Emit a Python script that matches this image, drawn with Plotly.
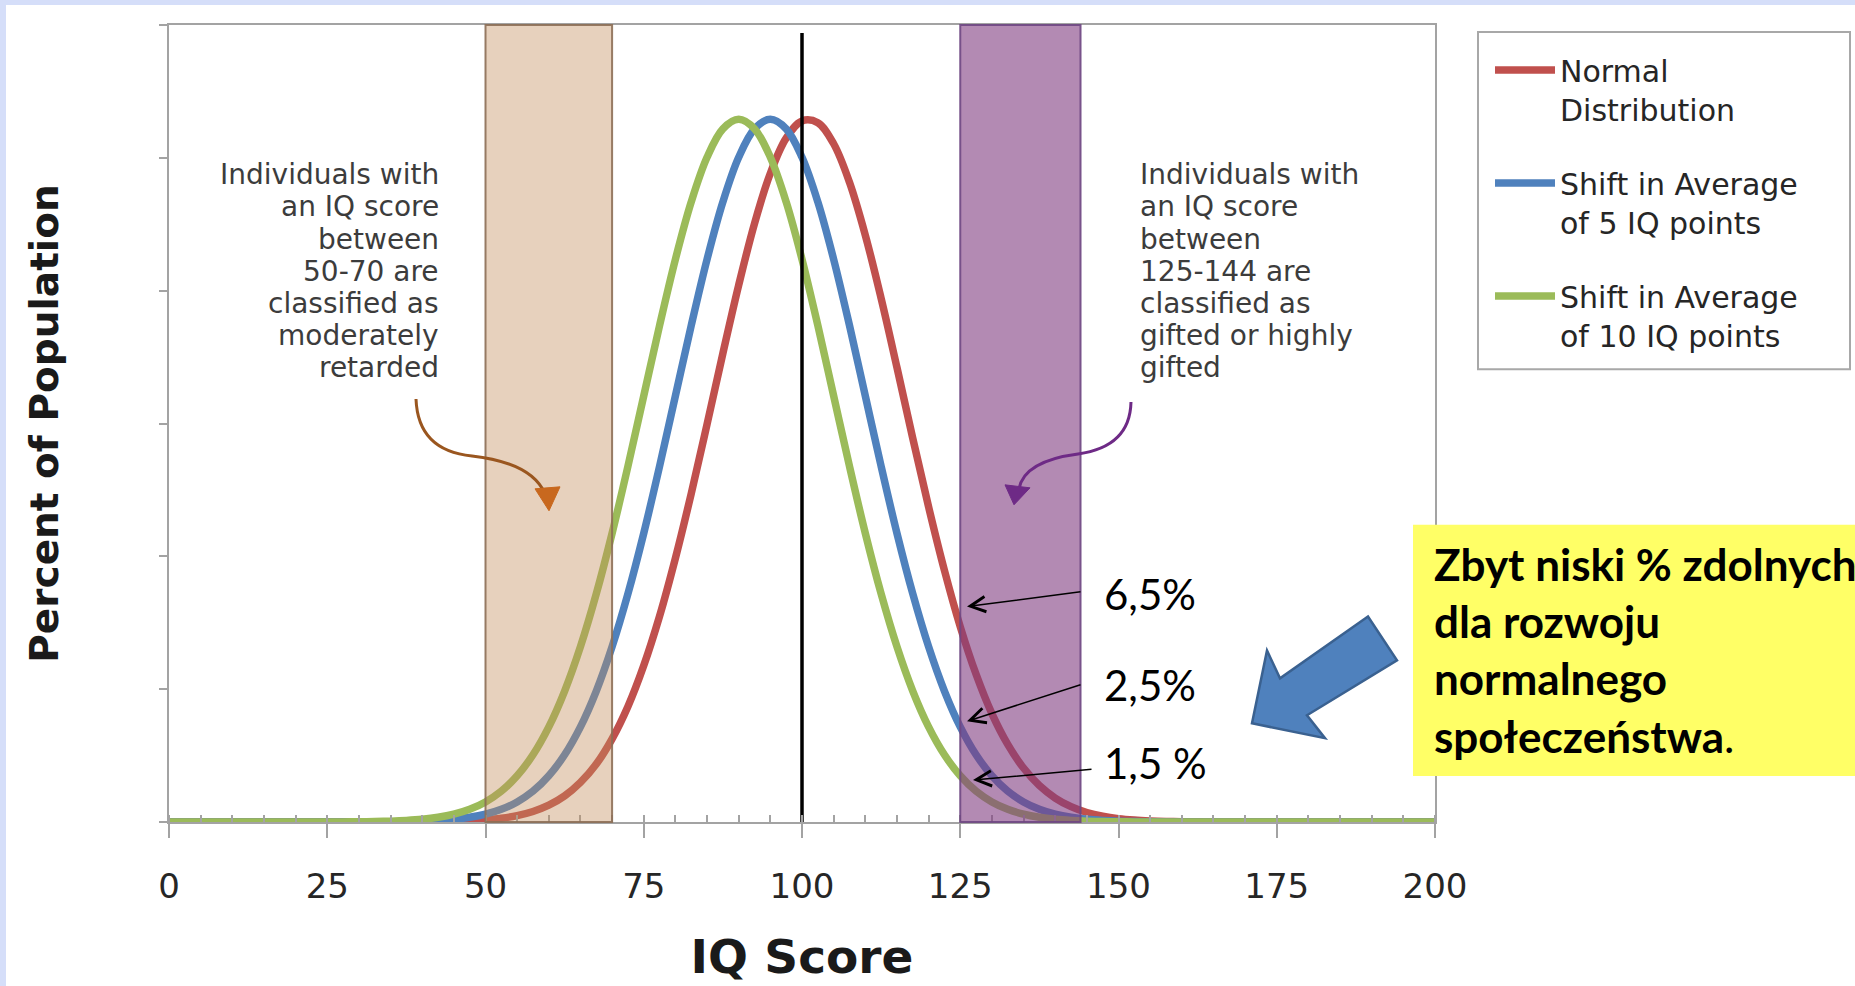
import plotly.graph_objects as go

# ---- data -----------------------------------------------------------------
iq_score = [0,
            25, 27.5, 30, 32.5, 35, 37.5, 40, 42.5, 45, 47.5,
            50, 52.5, 55, 57.5, 60, 62.5, 65, 67.5, 70, 72.5,
            75, 77.5, 80, 82.5, 85, 87.5, 90, 92.5, 95, 97.5,
            100, 102.5, 105, 107.5, 110, 112.5, 115, 117.5, 120, 122.5,
            125, 127.5, 130, 132.5, 135, 137.5, 140, 142.5, 145, 147.5,
            150, 152.5, 155, 157.5, 160, 162.5, 165, 167.5, 170, 172.5,
            175,
            200]

normal_dist = [0,
               0, 0, 0, 0, 0.0001, 0.0003, 0.0007, 0.0013, 0.0025, 0.0046,
               0.0082, 0.0142, 0.024, 0.0395, 0.0631, 0.0982, 0.149, 0.218, 0.313, 0.435,
               0.589, 0.775, 0.993, 1.236, 1.497, 1.764, 2.021, 2.253, 2.442, 2.574,
               2.639, 2.632, 2.553, 2.408, 2.209, 1.971, 1.711, 1.444, 1.186, 0.947,
               0.735, 0.556, 0.408, 0.292, 0.203, 0.137, 0.0901, 0.0576, 0.0358, 0.0217,
               0.0127, 0.0073, 0.0041, 0.0022, 0.0012, 0.0006, 0.0003, 0, 0, 0,
               0,
               0]

shift_5 = [0,
           0, 0, 0.0002, 0.0004, 0.0009, 0.0017, 0.0032, 0.0058, 0.0102, 0.0176,
           0.0294, 0.0478, 0.0756, 0.116, 0.174, 0.253, 0.358, 0.493, 0.660, 0.859,
           1.087, 1.339, 1.604, 1.869, 2.118, 2.334, 2.502, 2.609, 2.645, 2.609,
           2.502, 2.334, 2.118, 1.869, 1.604, 1.339, 1.087, 0.859, 0.660, 0.493,
           0.358, 0.253, 0.174, 0.116, 0.0756, 0.0478, 0.0294, 0.0176, 0.0102, 0.0058,
           0.0032, 0.0017, 0.0009, 0.0004, 0.0002, 0, 0, 0, 0, 0,
           0,
           0]

shift_10 = [0,
            0.0002, 0.0004, 0.0009, 0.0017, 0.0032, 0.0058, 0.0102, 0.0176, 0.0294, 0.0478,
            0.0756, 0.116, 0.174, 0.253, 0.358, 0.493, 0.660, 0.859, 1.087, 1.339,
            1.604, 1.869, 2.118, 2.334, 2.502, 2.609, 2.645, 2.609, 2.502, 2.334,
            2.118, 1.869, 1.604, 1.339, 1.087, 0.859, 0.660, 0.493, 0.358, 0.253,
            0.174, 0.116, 0.0756, 0.0478, 0.0294, 0.0176, 0.0102, 0.0058, 0.0032, 0.0017,
            0.0009, 0.0004, 0.0002, 0, 0, 0, 0, 0, 0, 0,
            0,
            0]

series_names = ["Normal<br>Distribution",
                "Shift in Average<br>of 5 IQ points",
                "Shift in Average<br>of 10 IQ points"]
series_colors = ["#C0504D", "#4F81BD", "#9BBB59"]

average_iq = [100, 100]
average_line_height = [0, 2.97]

low_band = [50, 70]      # moderately retarded
high_band = [125, 144]   # gifted or highly gifted

x_tick_values = [0, 25, 50, 75, 100, 125, 150, 175, 200]
share_labels = ["6,5%", "2,5%", "1,5 %"]

low_note = ["Individuals with", "an IQ score", "between", "50-70 are",
            "classified as", "moderately", "retarded"]
high_note = ["Individuals with", "an IQ score", "between", "125-144 are",
             "classified as", "gifted or highly", "gifted"]

# ---- page geometry --------------------------------------------------------
W, H = 1855, 986
PL, PR, PT, PB = 169, 1435, 25, 824   # plot area in page pixels


def px(x):
    return (x - PL) / (PR - PL)


def py(y):
    return (PB - y) / (PB - PT)


def pt(x, y):
    return f"{px(x):.5f},{py(y):.5f}"


fig = go.Figure()

for name, values, color in zip(series_names, [normal_dist, shift_5, shift_10], series_colors):
    fig.add_trace(go.Scatter(
        x=iq_score, y=values, name=name, mode="lines",
        line=dict(color=color, width=7.5, shape="spline", smoothing=1.0),
        legendgroup=name,
    ))

fig.add_trace(go.Scatter(
    x=average_iq, y=average_line_height, mode="lines",
    line=dict(color="black", width=3.5), showlegend=False, hoverinfo="skip",
))

shapes = []
# white page area over the lavender frame
shapes.append(dict(type="rect", xref="paper", yref="paper", layer="below",
                   x0=px(6), x1=px(W + 5), y0=py(H + 5), y1=py(5),
                   fillcolor="white", line=dict(width=0)))
# legend frame
shapes.append(dict(type="rect", xref="paper", yref="paper", layer="above",
                   x0=px(1478), x1=px(1850), y0=py(370), y1=py(32),
                   fillcolor="white", line=dict(color="#a8a8a8", width=2)))
# classification bands
shapes.append(dict(type="rect", xref="x", yref="paper", layer="above",
                   x0=low_band[0], x1=low_band[1], y0=0, y1=1,
                   fillcolor="rgba(196,140,90,0.40)",
                   line=dict(color="rgba(140,110,85,0.9)", width=2)))
shapes.append(dict(type="rect", xref="x", yref="paper", layer="above",
                   x0=high_band[0], x1=high_band[1], y0=0, y1=1,
                   fillcolor="rgba(128,60,128,0.60)",
                   line=dict(color="rgba(110,70,130,0.9)", width=2)))
# curved pointer arrows
shapes.append(dict(type="path", xref="paper", yref="paper", layer="above",
                   path=f"M{pt(416,400)} Q{pt(418,452)} {pt(472,457)} Q{pt(532,464)} {pt(545,495)}",
                   line=dict(color="#9A561F", width=3)))
shapes.append(dict(type="path", xref="paper", yref="paper", layer="above",
                   path=f"M{pt(535,490)} L{pt(560,488)} L{pt(549,512)} Z",
                   fillcolor="#C8681E", line=dict(color="#C8681E", width=1)))
shapes.append(dict(type="path", xref="paper", yref="paper", layer="above",
                   path=f"M{pt(1131,403)} Q{pt(1130,448)} {pt(1078,455)} Q{pt(1024,462)} {pt(1019,490)}",
                   line=dict(color="#6E2A86", width=3)))
shapes.append(dict(type="path", xref="paper", yref="paper", layer="above",
                   path=f"M{pt(1005,486)} L{pt(1030,489)} L{pt(1014,506)} Z",
                   fillcolor="#6E2A86", line=dict(color="#6E2A86", width=1)))
# big blue block arrow
shapes.append(dict(type="path", xref="paper", yref="paper", layer="above",
                   path=(f"M{pt(1252,725)} L{pt(1267,652)} L{pt(1280,680)} L{pt(1368,618)} "
                         f"L{pt(1397,662)} L{pt(1307,717)} L{pt(1325,740)} Z"),
                   fillcolor="#4F81BD", line=dict(color="#3A6190", width=2.5)))
# yellow note box
shapes.append(dict(type="rect", xref="paper", yref="paper", layer="above",
                   x0=px(1413), x1=px(W + 5), y0=py(778), y1=py(526),
                   fillcolor="#FFFF66", line=dict(width=0)))

annotations = []
ann_font = dict(family="DejaVu Sans", size=28, color="#3c3c3c")
for i, (left_line, right_line) in enumerate(zip(low_note, high_note)):
    line_y = py(175 + 32.3 * i)
    annotations.append(dict(
        xref="paper", yref="paper", x=px(441), y=line_y, xanchor="right", yanchor="middle",
        showarrow=False, font=ann_font, text=left_line))
    annotations.append(dict(
        xref="paper", yref="paper", x=px(1138), y=line_y, xanchor="left", yanchor="middle",
        showarrow=False, font=ann_font, text=right_line))

# share labels with thin pointer arrows
label_pos = [(1102, 595), (1102, 687), (1102, 765)]
arrow_tail = [(1082, 593), (1082, 686), (1093, 771)]
arrow_tip = [(967, 608), (967, 723), (973, 782)]
for text, (lx, ly), (tx, ty), (hx, hy) in zip(share_labels, label_pos, arrow_tail, arrow_tip):
    annotations.append(dict(
        xref="paper", yref="paper", x=px(lx), y=py(ly), xanchor="left", yanchor="middle",
        showarrow=False, text=text, font=dict(family="Lato", size=42, color="black")))
    annotations.append(dict(
        xref="paper", yref="paper", x=px(hx), y=py(hy), text="", showarrow=True,
        axref="pixel", ayref="pixel", ax=tx - hx, ay=ty - hy,
        arrowhead=5, arrowsize=2.0, arrowwidth=1.5, arrowcolor="black",
        standoff=0, startstandoff=0))

annotations.append(dict(
    xref="paper", yref="paper", x=px(1432), y=py(537), xanchor="left", yanchor="top",
    align="left", showarrow=False, font=dict(family="Lato", size=44, color="black"),
    text="<b>Zbyt niski % zdolnych<br>dla rozwoju<br>normalnego<br>społeczeństwa</b>."))

axis_gray = "#a3a3a3"
fig.update_layout(
    width=W, height=H,
    margin=dict(l=PL, r=W - PR, t=PT, b=H - PB, pad=0),
    paper_bgcolor="#D5DEF9",
    plot_bgcolor="white",
    shapes=shapes,
    annotations=annotations,
    showlegend=True,
    legend=dict(
        x=px(1490), y=py(44), xanchor="left", yanchor="top",
        bgcolor="rgba(0,0,0,0)", borderwidth=0,
        font=dict(family="DejaVu Sans", size=30, color="#262626"),
        valign="top", tracegroupgap=32, itemwidth=60,
    ),
    xaxis=dict(
        range=[0, 200], tickvals=x_tick_values, ticks="outside", ticklen=14,
        tickcolor=axis_gray, tickwidth=1.5, showline=True, linecolor=axis_gray,
        linewidth=2, mirror=True, showgrid=False, zeroline=False,
        tickfont=dict(family="DejaVu Sans", size=34, color="#262626"),
        ticklabelstandoff=19,
        minor=dict(dtick=5, ticks="inside", ticklen=7, tickcolor=axis_gray, tickwidth=1.5),
        title=dict(text="<b>IQ Score</b>", standoff=35,
                   font=dict(family="DejaVu Sans", size=47, color="#1a1a1a")),
    ),
    yaxis=dict(
        range=[0, 3], dtick=0.5, ticks="outside", ticklen=8, tickcolor=axis_gray,
        tickwidth=1.5, showticklabels=False, showline=True, linecolor=axis_gray,
        linewidth=2, mirror=True, showgrid=False, zeroline=False,
        title=dict(text="<b>Percent of Population</b>", standoff=88,
                   font=dict(family="DejaVu Sans", size=39, color="#1a1a1a")),
    ),
)

fig.write_html("out.html")
